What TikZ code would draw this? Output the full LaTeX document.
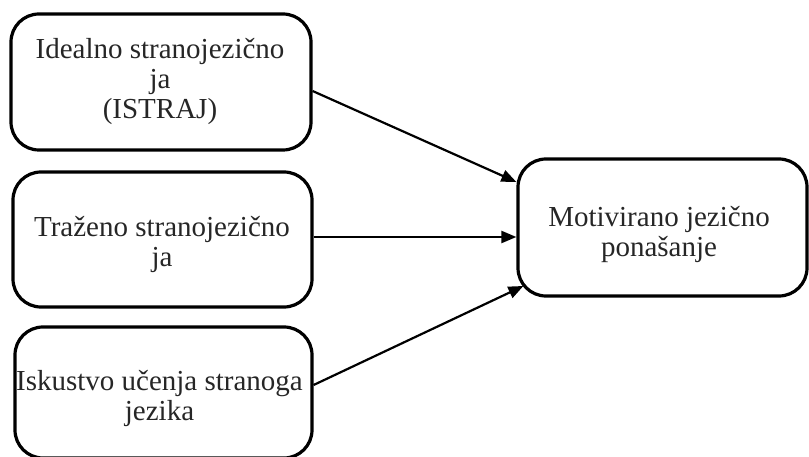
\documentclass[tikz,border=0pt]{standalone}
\usepackage{fontspec}
\setmainfont{Liberation Serif}
\usetikzlibrary{arrows.meta}
\begin{document}
\begin{tikzpicture}[x=1pt,y=-1pt,
  box/.style={draw=black,line width=3.2pt,rounded corners=28pt,inner sep=0pt},
  txt/.style={align=center,inner sep=0pt,font=\fontsize{29}{30}\selectfont,text=black!85},
  conn/.style={line width=2.2pt,-{Triangle[length=15pt,width=12pt]}}]
\useasboundingbox (0,0) rectangle (809,457);
\node[box,minimum width=300pt,minimum height=136pt] (b1) at (161,82) {};
\node[box,minimum width=299pt,minimum height=135pt] (b2) at (162.5,239.5) {};
\node[box,minimum width=297pt,minimum height=131pt] (b3) at (163.5,392.5) {};
\node[box,minimum width=289pt,minimum height=137pt] (m) at (662.5,227.5) {};
\node[txt] (t1) at (160,81) {Idealno stranojezično\\ja\\(ISTRAJ)};
\node[txt] (t2) at (162,244) {Traženo stranojezično\\ja};
\node[txt] (t3) at (159.5,398) {Iskustvo učenja stranoga\\jezika};
\node[txt] (tm) at (659,234) {Motivirano jezično\\ponašanje};
\coordinate (a1s) at ([yshift=-9pt]b1.east);
\coordinate (a1e) at ([yshift=45.5pt]m.west);
\coordinate (a2s) at ([yshift=2.5pt]b2.east);
\coordinate (a2e) at ([yshift=-9.5pt]m.west);
\coordinate (a3s) at ([yshift=7.5pt]b3.east);
\coordinate (a3e) at ([xshift=7pt,yshift=-58.5pt]m.west);
\draw[conn] (a1s) -- (a1e);
\draw[conn] (a2s) -- (a2e);
\draw[conn] (a3s) -- (a3e);
\end{tikzpicture}
\end{document}
